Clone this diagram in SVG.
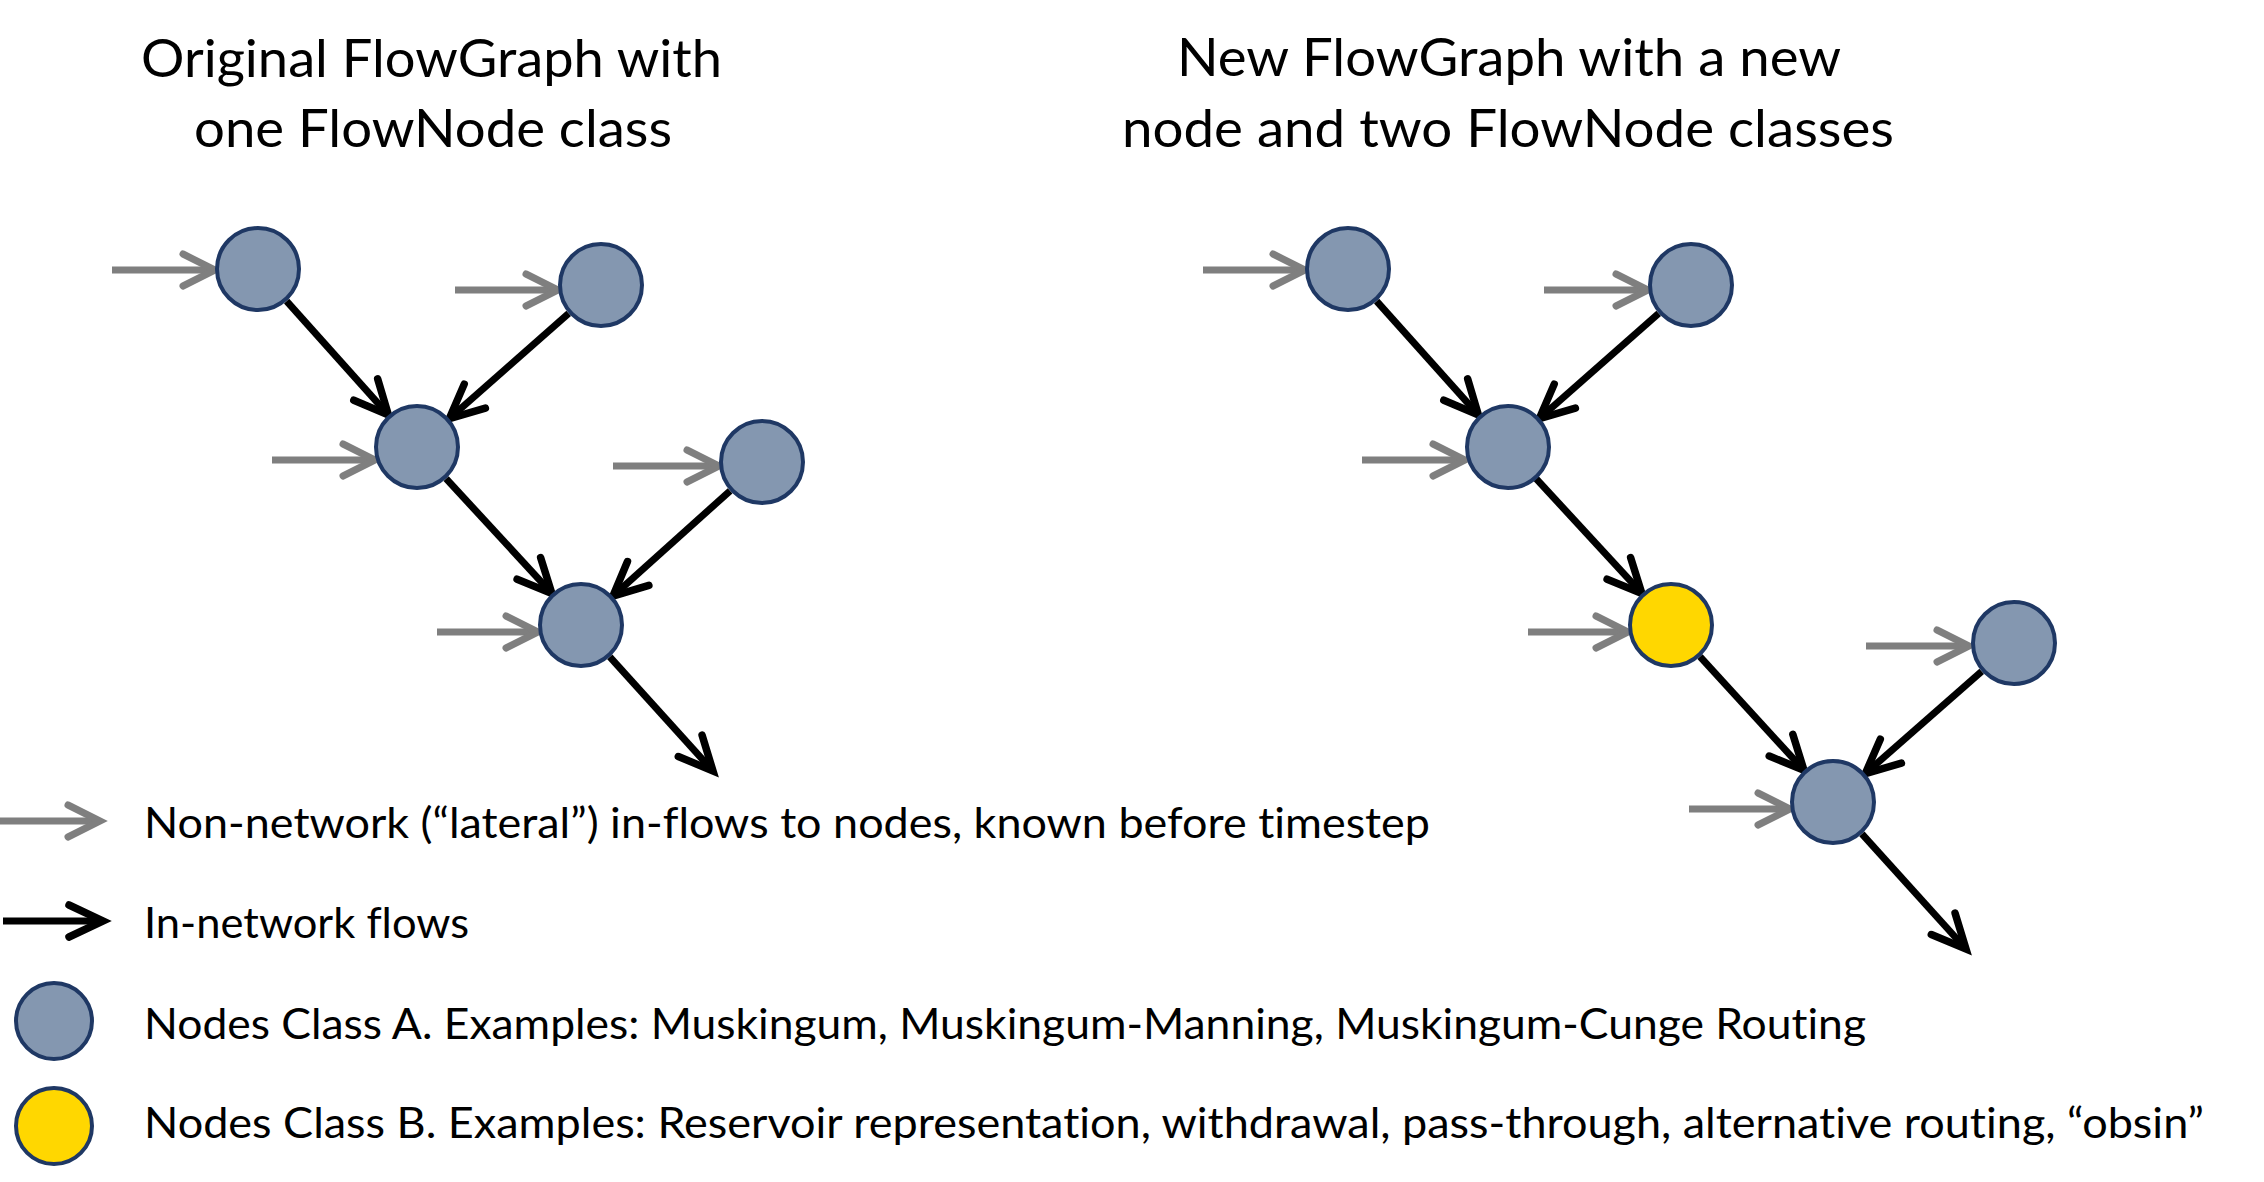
<svg xmlns="http://www.w3.org/2000/svg" width="2264" height="1182" viewBox="0 0 2264 1182">
<style>
.t{font-family:Lato,"Open Sans","Liberation Sans",sans-serif;fill:#000;font-variant-ligatures:none}
.title{font-size:53px}
.leg{font-size:42px}
.na{fill:#8497B0;stroke:#1F3864;stroke-width:4}
.nb{fill:#FFD700;stroke:#1F3864;stroke-width:4}
.lat{stroke:#7F7F7F;stroke-width:7;fill:none;marker-end:url(#mg)}
.flow{stroke:#000;stroke-width:7;fill:none;marker-end:url(#mb)}
</style>
<defs>
<marker id="mg" markerUnits="userSpaceOnUse" viewBox="-40 -22 44 44" markerWidth="44" markerHeight="44" refX="0" refY="0" orient="auto" overflow="visible">
<path d="M-32,-16 L0,0 L-32,16" fill="none" stroke="#7F7F7F" stroke-width="7" stroke-linecap="round" stroke-linejoin="miter"/>
</marker>
<marker id="mb" markerUnits="userSpaceOnUse" viewBox="-40 -22 44 44" markerWidth="44" markerHeight="44" refX="0" refY="0" orient="auto" overflow="visible">
<path d="M-34,-16 L0,0 L-34,16" fill="none" stroke="#000" stroke-width="7.5" stroke-linecap="round" stroke-linejoin="miter"/>
</marker>
</defs>
<rect width="2264" height="1182" fill="#fff"/>
<g id="titles">
<text class="t title" x="141" y="77" textLength="581" lengthAdjust="spacingAndGlyphs">Original FlowGraph with</text>
<text class="t title" x="194" y="147" textLength="478" lengthAdjust="spacingAndGlyphs">one FlowNode class</text>
<text class="t title" x="1177" y="76" textLength="664" lengthAdjust="spacingAndGlyphs">New FlowGraph with a new</text>
<text class="t title" x="1122" y="147" textLength="772" lengthAdjust="spacingAndGlyphs">node and two FlowNode classes</text>
</g>
<g id="connectors">
<line class="lat" x1="112" y1="270" x2="215" y2="270"/>
<line class="lat" x1="455" y1="290" x2="558" y2="290"/>
<line class="lat" x1="272" y1="460" x2="375" y2="460"/>
<line class="lat" x1="613" y1="466" x2="719" y2="466"/>
<line class="lat" x1="437" y1="632" x2="538" y2="632"/>
<line class="lat" x1="1203" y1="270" x2="1305" y2="270"/>
<line class="lat" x1="1544" y1="290" x2="1648" y2="290"/>
<line class="lat" x1="1362" y1="460" x2="1465" y2="460"/>
<line class="lat" x1="1528" y1="632" x2="1628" y2="632"/>
<line class="lat" x1="1866" y1="646" x2="1969" y2="646"/>
<line class="lat" x1="1689" y1="809" x2="1790" y2="809"/>
<line class="flow" x1="286.6" y1="301.1" x2="388.4" y2="414.9"/>
<line class="flow" x1="568.7" y1="313.4" x2="449.3" y2="418.6"/>
<line class="flow" x1="446.1" y1="478.6" x2="551.9" y2="593.4"/>
<line class="flow" x1="730.1" y1="490.8" x2="612.9" y2="596.2"/>
<line class="flow" x1="609.8" y1="656.9" x2="713" y2="771"/>
<line class="flow" x1="1376.6" y1="301.1" x2="1478.4" y2="414.9"/>
<line class="flow" x1="1658.7" y1="313.4" x2="1539.3" y2="418.6"/>
<line class="flow" x1="1536.1" y1="478.6" x2="1641.9" y2="593.4"/>
<line class="flow" x1="1700" y1="656.7" x2="1804" y2="770.3"/>
<line class="flow" x1="1981.7" y1="671.4" x2="1865.3" y2="773.6"/>
<line class="flow" x1="1861.9" y1="833.9" x2="1966" y2="949"/>
</g>
<g id="node-a1"><circle class="na" cx="258" cy="269" r="41"/></g>
<g id="node-a2"><circle class="na" cx="601" cy="285" r="41"/></g>
<g id="node-a3"><circle class="na" cx="417" cy="447" r="41"/></g>
<g id="node-a4"><circle class="na" cx="762" cy="462" r="41"/></g>
<g id="node-a5"><circle class="na" cx="581" cy="625" r="41"/></g>
<g id="node-b1"><circle class="na" cx="1348" cy="269" r="41"/></g>
<g id="node-b2"><circle class="na" cx="1691" cy="285" r="41"/></g>
<g id="node-b3"><circle class="na" cx="1508" cy="447" r="41"/></g>
<g id="node-b4"><circle class="nb" cx="1671" cy="625" r="41"/></g>
<g id="node-b5"><circle class="na" cx="2014" cy="643" r="41"/></g>
<g id="node-b6"><circle class="na" cx="1833" cy="802" r="41"/></g>
<g id="legend">
<line class="lat" x1="0" y1="821" x2="100" y2="821"/>
<line class="flow" x1="3" y1="921" x2="103" y2="921"/>
<circle class="na" cx="54" cy="1021" r="38"/>
<circle class="nb" cx="54" cy="1126" r="38"/>
<text class="t leg" x="144" y="838" textLength="1286" lengthAdjust="spacingAndGlyphs">Non-network (“lateral”) in-flows to nodes, known before timestep</text>
<text class="t leg" x="144" y="938" textLength="325" lengthAdjust="spacingAndGlyphs">In-network flows</text>
<text class="t leg" x="144" y="1039" textLength="1722" lengthAdjust="spacingAndGlyphs">Nodes Class A. Examples: Muskingum, Muskingum-Manning, Muskingum-Cunge Routing</text>
<text class="t leg" x="144" y="1138" textLength="2060" lengthAdjust="spacingAndGlyphs">Nodes Class B. Examples: Reservoir representation, withdrawal, pass-through, alternative routing, “obsin”</text>
</g>
</svg>
